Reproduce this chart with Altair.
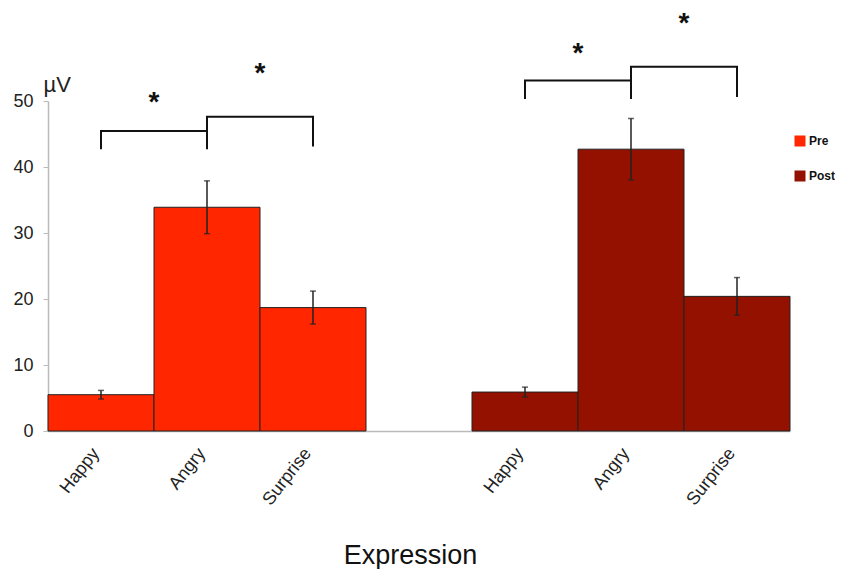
import altair as alt
import pandas as pd

# ---- data ----
slots = ["Pre|Happy", "Pre|Angry", "Pre|Surprise", "gap", "Post|Happy", "Post|Angry", "Post|Surprise"]
conditions = ["Pre", "Pre", "Pre", "Post", "Post", "Post"]
bar_slots = ["Pre|Happy", "Pre|Angry", "Pre|Surprise", "Post|Happy", "Post|Angry", "Post|Surprise"]
means = [5.5, 33.9, 18.7, 5.9, 42.7, 20.4]
errors = [0.65, 4.0, 2.5, 0.75, 4.65, 2.85]

# significance brackets (slot, level, bracket id, order)
br_slot = ["Pre|Happy", "Pre|Happy", "Pre|Angry", "Pre|Angry",
           "Pre|Angry", "Pre|Angry", "Pre|Surprise", "Pre|Surprise",
           "Post|Happy", "Post|Happy", "Post|Angry", "Post|Angry",
           "Post|Angry", "Post|Angry", "Post|Surprise", "Post|Surprise"]
br_y = [42.7, 45.45, 45.45, 42.7,
        45.45, 47.6, 47.6, 43.1,
        50.3, 53.1, 53.1, 50.3,
        53.1, 55.2, 55.2, 50.6]
br_id = ["a"] * 4 + ["b"] * 4 + ["c"] * 4 + ["d"] * 4
br_order = [0, 1, 2, 3] * 4

star_slot = ["Pre|Happy", "Pre|Angry", "Post|Happy", "Post|Angry"]
star_y = [50.4, 54.9, 57.9, 62.4]

colors = ["#FF2600", "#941100"]

bars = pd.DataFrame({"slot": bar_slots, "Condition": conditions, "mean": means, "err": errors})
bars["lo"] = bars["mean"] - bars["err"]
bars["hi"] = bars["mean"] + bars["err"]
brackets = pd.DataFrame({"slot": br_slot, "y": br_y, "id": br_id, "ord": br_order})
stars = pd.DataFrame({"slot": star_slot, "y": star_y, "t": ["*"] * 4})

FONT = "Liberation Sans"

xscale = alt.Scale(domain=slots, paddingInner=0, paddingOuter=0)
yscale = alt.Scale(domain=[0, 50], nice=False)

x_axis = alt.Axis(
    title="Expression", labelAngle=-52, labelFontSize=18, labelColor="#222",
    labelFont=FONT, labelExpr="datum.value == 'gap' ? '' : split(datum.value, '|')[1]",
    labelAlign="right", labelBaseline="middle", labelOffset=-5,
    ticks=False, labelPadding=19, domainColor="#bbbbbb", domainWidth=1.5,
    titleFontSize=27, titleFontWeight="normal", titleFont=FONT, titleColor="#111",
    titleX=362, titleY=132, titleAlign="center", titleBaseline="alphabetic",
)
y_axis = alt.Axis(
    title="µV", titleAngle=0, titleFontSize=22, titleFontWeight="normal", titleFont=FONT,
    titleColor="#222", titleX=-5, titleY=-10, titleAlign="left", titleBaseline="alphabetic",
    values=[0, 5, 10, 15, 20, 25, 30, 35, 40, 45, 50],
    labelExpr="datum.value % 10 == 0 ? datum.label : ''",
    labelFontSize=18, labelColor="#222", labelFont=FONT, labelPadding=10,
    tickSize=5, tickColor="#bbbbbb", domainColor="#bbbbbb", domainWidth=1.5, grid=False,
)

base_x = alt.X("slot:N", scale=xscale, axis=x_axis, sort=slots)

bar_layer = alt.Chart(bars).mark_bar(stroke="#222", strokeWidth=1).encode(
    x=base_x,
    y=alt.Y("mean:Q", scale=yscale, axis=y_axis),
    color=alt.Color(
        "Condition:N",
        scale=alt.Scale(domain=["Pre", "Post"], range=colors),
        legend=alt.Legend(
            title=None, orient="none", legendX=746, legendY=34, symbolType="square",
            symbolSize=121, symbolStrokeWidth=0, labelFontSize=12, labelFontWeight="bold",
            labelFont=FONT, labelColor="#111", rowPadding=23, labelOffset=3, padding=0,
        ),
    ),
)

err_rule = alt.Chart(bars).mark_rule(color="#222", strokeWidth=1.5).encode(
    x=alt.X("slot:N", scale=xscale, sort=slots), y="lo:Q", y2="hi:Q"
)
cap_hi = alt.Chart(bars).mark_tick(color="#222", thickness=1.5, size=6).encode(
    x=alt.X("slot:N", scale=xscale, sort=slots), y="hi:Q"
)
cap_lo = alt.Chart(bars).mark_tick(color="#222", thickness=1.5, size=6).encode(
    x=alt.X("slot:N", scale=xscale, sort=slots), y="lo:Q"
)

bracket_layer = alt.Chart(brackets).mark_line(color="#111", strokeWidth=2, strokeJoin="miter").encode(
    x=alt.X("slot:N", scale=xscale, sort=slots),
    y="y:Q",
    detail="id:N",
    order="ord:Q",
)

star_layer = alt.Chart(stars).mark_text(
    fontSize=28, fontWeight="bold", font=FONT, color="#111", baseline="top", dy=-9
).encode(
    x=alt.X("slot:N", scale=xscale, sort=slots, bandPosition=1),
    y="y:Q",
    text="t:N",
)

chart = alt.layer(bar_layer, err_rule, cap_hi, cap_lo, bracket_layer, star_layer).properties(
    width=742, height=330,
    autosize=alt.AutoSizeParams(type="none"),
    padding={"left": 40, "top": 93, "right": 45, "bottom": 138},
).configure_view(stroke=None)

chart.save("out.html", embed_options={"renderer": "svg", "actions": False})
